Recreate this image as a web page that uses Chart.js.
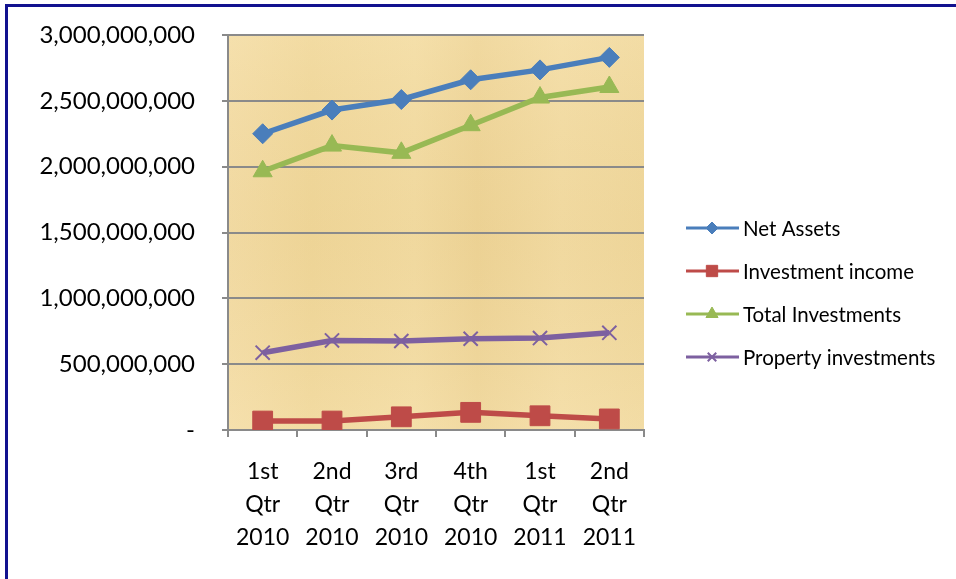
<!DOCTYPE html>
<html>
<head>
<meta charset="utf-8">
<script src="https://cdn.jsdelivr.net/npm/chart.js@4.4.0/dist/chart.umd.min.js"></script>
<style>
  html, body { margin: 0; padding: 0; background: #fff; }
  #wrap { width: 956px; height: 579px; position: relative; }
</style>
</head>
<body>
<div id="wrap"><canvas id="chart" width="956" height="579"></canvas></div>
<script>
// ===== Data =====
const quarters = [
  ["1st", "Qtr", "2010"], ["2nd", "Qtr", "2010"], ["3rd", "Qtr", "2010"],
  ["4th", "Qtr", "2010"], ["1st", "Qtr", "2011"], ["2nd", "Qtr", "2011"]
];
const netAssets = [2250000000, 2430000000, 2510000000, 2660000000, 2735000000, 2830000000];
const investmentIncome = [68000000, 68000000, 100000000, 134000000, 108000000, 84000000];
const totalInvestments = [1965000000, 2160000000, 2105000000, 2315000000, 2525000000, 2605000000];
const propertyInvestments = [587000000, 680000000, 676000000, 693000000, 698000000, 738000000];
const yTicks = [0, 500000000, 1000000000, 1500000000, 2000000000, 2500000000, 3000000000];

const FONT = "Lato, 'Open Sans', sans-serif";
const GRID = "#8a8a8a";

// papyrus-ish background + outer frame
const backdrop = {
  id: "backdrop",
  beforeDraw(chart) {
    const { ctx, chartArea: a } = chart;
    ctx.save();
    let g = ctx.createLinearGradient(a.left, 0, a.right, 0);
    g.addColorStop(0, "#f3dca6");
    g.addColorStop(0.2, "#efd699");
    g.addColorStop(0.45, "#f2dba2");
    g.addColorStop(0.6, "#edd396");
    g.addColorStop(0.8, "#f2dba3");
    g.addColorStop(1, "#efd79c");
    ctx.fillStyle = g;
    ctx.fillRect(a.left, a.top, a.right - a.left, a.bottom - a.top);
    g = ctx.createLinearGradient(0, a.top, 0, a.bottom);
    g.addColorStop(0, "rgba(255,240,200,0.2)");
    g.addColorStop(0.5, "rgba(225,195,125,0.1)");
    g.addColorStop(1, "rgba(255,240,200,0.2)");
    ctx.fillStyle = g;
    ctx.fillRect(a.left, a.top, a.right - a.left, a.bottom - a.top);

    // frame
    ctx.strokeStyle = "#12128f";
    ctx.lineWidth = 3;
    ctx.beginPath();
    ctx.moveTo(6.5, 579);
    ctx.lineTo(6.5, 5.5);
    ctx.lineTo(956, 5.5);
    ctx.stroke();
    ctx.restore();
  }
};

// line-with-marker legend on the right
const sideLegend = {
  id: "sideLegend",
  afterDraw(chart) {
    const { ctx } = chart;
    const rows = [228, 271, 314, 357];
    ctx.save();
    chart.data.datasets.forEach((ds, i) => {
      const y = rows[i];
      ctx.strokeStyle = ds.borderColor;
      ctx.lineWidth = 3;
      ctx.beginPath();
      ctx.moveTo(686, y);
      ctx.lineTo(739, y);
      ctx.stroke();
      // drawPoint uses the ctx colours set before it
      ctx.fillStyle = ds.borderColor;
      ctx.lineWidth = ds.pointStyle === "crossRot" ? 2 : 1;
      Chart.helpers.drawPoint(ctx, {
        pointStyle: ds.pointStyle,
        radius: ds.legendRadius,
        borderWidth: ctx.lineWidth,
        rotation: 0
      }, 712, y);
      ctx.fillStyle = "#000";
      ctx.font = "20.5px " + FONT;
      ctx.textBaseline = "middle";
      ctx.textAlign = "left";
      ctx.fillText(ds.label, 743, y + 1);
    });
    ctx.restore();
  }
};

function series(label, data, color, style, radius, legendRadius) {
  return {
    label, data,
    borderColor: color,
    backgroundColor: color,
    pointBackgroundColor: color,
    pointBorderColor: color,
    borderWidth: 5.5,
    pointStyle: style,
    pointRadius: radius,
    pointHoverRadius: radius,
    pointBorderWidth: style === "crossRot" ? 2 : 1,
    legendRadius,
    tension: 0
  };
}

new Chart(document.getElementById("chart"), {
  type: "line",
  data: {
    labels: quarters,
    datasets: [
      series("Net Assets", netAssets, "#4a7ebb", "rectRot", 10, 6),
      series("Investment income", investmentIncome, "#be4b48", "rect", 14, 8),
      series("Total Investments", totalInvestments, "#98b954", "triangle", 11, 7),
      series("Property investments", propertyInvestments, "#7d60a0", "crossRot", 10, 6)
    ]
  },
  options: {
    responsive: false,
    animation: false,
    layout: { padding: { left: 0, right: 312, top: 35, bottom: 0 } },
    plugins: {
      legend: { display: false },
      tooltip: { enabled: false }
    },
    scales: {
      x: {
        offset: true,
        grid: {
          offset: true,
          drawOnChartArea: false,
          drawTicks: true,
          tickLength: 7,
          color: GRID,
          lineWidth: 2
        },
        border: { display: true, color: GRID, width: 2 },
        ticks: {
          color: "#000",
          font: { family: FONT, size: 23, lineHeight: 1.43 },
          padding: 18,
          maxRotation: 0,
          autoSkip: false
        },
        afterFit(scale) {
          scale.height = 149;
          scale.paddingLeft = 0;
          scale.paddingRight = 0;
        }
      },
      y: {
        min: 0,
        max: 3000000000,
        afterBuildTicks(scale) { scale.ticks = yTicks.map(v => ({ value: v })); },
        grid: {
          color: GRID,
          lineWidth: 2,
          drawTicks: true,
          tickLength: 6
        },
        border: { display: true, color: GRID, width: 2 },
        ticks: {
          color: "#000",
          font: { family: FONT, size: 24 },
          padding: 27,
          callback: v => v === 0 ? "-" : v.toLocaleString("en-US")
        },
        afterFit(scale) {
          scale.width = 228;
          scale.paddingTop = 0;
          scale.paddingBottom = 0;
        }
      }
    }
  },
  plugins: [backdrop, sideLegend]
});
</script>
</body>
</html>
